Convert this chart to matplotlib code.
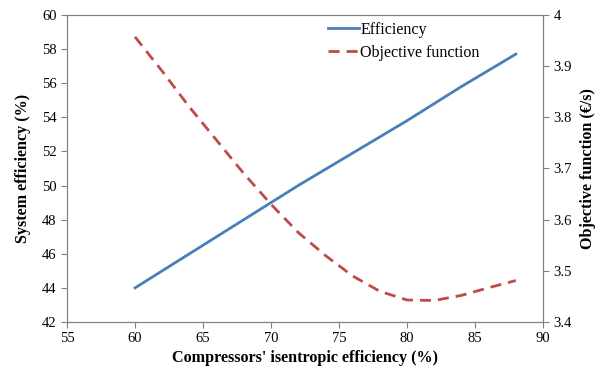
import matplotlib
matplotlib.use("Agg")
import matplotlib.pyplot as plt

plt.rcParams['font.family'] = ['Liberation Serif', 'DejaVu Serif']

# compressor isentropic efficiency (%)
x_eff = [60, 64, 68, 72, 76, 80, 84, 88]
sys_eff = [44.0, 46.0, 48.0, 50.0, 51.9, 53.8, 55.8, 57.7]

x_obj = [60, 62, 64, 66, 68, 70, 72, 74, 76, 78, 80, 82, 84, 86, 88]
obj_fun = [3.957, 3.89, 3.82, 3.755, 3.69, 3.63, 3.575, 3.53, 3.49, 3.46,
           3.443, 3.442, 3.452, 3.467, 3.481]

grey = '#808080'

fig = plt.figure(figsize=(6.11, 3.70), dpi=100)
ax = fig.add_axes([0.1097, 0.1297, 0.779, 0.83])
ax2 = ax.twinx()

l1, = ax.plot(x_eff, sys_eff, color='#4a7ebb', lw=2, label='Efficiency')
l2, = ax2.plot(x_obj, obj_fun, color='#be4b48', lw=2, ls=(0, (4, 2.5)),
               label='Objective function')

ax.set_xlim(55, 90)
ax.set_ylim(42, 60)
ax.set_xticks(range(55, 91, 5))
ax.set_yticks(range(42, 61, 2))
ax2.set_ylim(3.4, 4.0)
ax2.set_yticks([3.4, 3.5, 3.6, 3.7, 3.8, 3.9, 4.0])
ax2.set_yticklabels(['3.4', '3.5', '3.6', '3.7', '3.8', '3.9', '4'])

for a in (ax, ax2):
    for s in a.spines.values():
        s.set_color(grey)
    a.tick_params(colors=grey, labelcolor='black', labelsize=10.5, length=4,
                  direction='out')

ax.set_xlabel("Compressors' isentropic efficiency (%)", fontsize=11.6,
              fontweight='bold', labelpad=3)
ax.set_ylabel('System efficiency (%)', fontsize=11.6, fontweight='bold',
              labelpad=8)
ax2.set_ylabel('Objective function (€/s)', fontsize=11.6, fontweight='bold',
               labelpad=6)

ax.legend([l1, l2], ['Efficiency', 'Objective function'], loc='upper left',
          bbox_to_anchor=(0.519, 1.025), frameon=False, fontsize=11.5,
          handlelength=1.9, handletextpad=0.1, labelspacing=0.45)

fig.savefig('out.png', dpi=100)
